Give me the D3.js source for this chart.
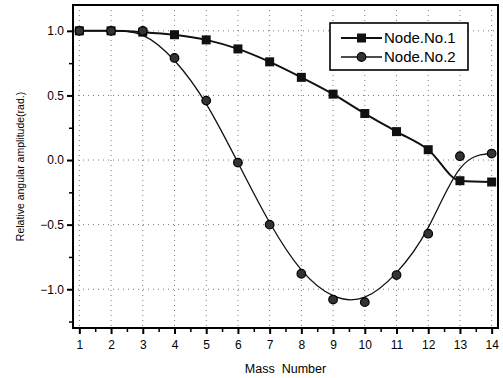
<!DOCTYPE html>
<html>
<head>
<meta charset="utf-8">
<script src="https://cdn.jsdelivr.net/npm/d3@7"></script>
<style>
  body { margin: 0; background: #fff; }
  svg { display: block; font-family: "Liberation Sans", Arial, sans-serif; }
</style>
</head>
<body>
<div id="chart"></div>
<script>
// mass numbers along the bottom axis
var massNumbers = [1, 2, 3, 4, 5, 6, 7, 8, 9, 10, 11, 12, 13, 14];
// relative angular amplitude
var node1 = [1.0, 1.0, 0.99, 0.97, 0.93, 0.86, 0.76, 0.64, 0.51, 0.36, 0.22, 0.08, -0.16, -0.17];
var node2 = [1.0, 1.0, 1.0, 0.79, 0.46, -0.02, -0.50, -0.88, -1.08, -1.10, -0.89, -0.57, 0.03, 0.05];
var seriesNames = ['Node.No.1', 'Node.No.2'];
var yTicks = [-1.0, -0.5, 0.0, 0.5, 1.0];

var width = 503, height = 378;
var margin = {top: 5, right: 5, bottom: 50, left: 73};
var w = width - margin.left - margin.right,
    h = height - margin.top - margin.bottom;

var svg = d3.select('#chart').append('svg')
  .attr('width', width)
  .attr('height', height);

var g = svg.append('g')
  .attr('transform', 'translate(' + margin.left + ',' + margin.top + ')');

var x = d3.scaleLinear().domain([0.8, 14.2]).range([0, w]);
var y = d3.scaleLinear().domain([-1.3, 1.2]).range([h, 0]);

// dotted grid at the major ticks
g.append('g').selectAll('line')
  .data(massNumbers)
  .join('line')
  .attr('x1', function(d) { return x(d); })
  .attr('x2', function(d) { return x(d); })
  .attr('y1', 0).attr('y2', h)
  .attr('stroke', '#777').attr('stroke-width', 1)
  .attr('stroke-dasharray', '1,4');

g.append('g').selectAll('line')
  .data(yTicks)
  .join('line')
  .attr('y1', function(d) { return y(d); })
  .attr('y2', function(d) { return y(d); })
  .attr('x1', 0).attr('x2', w)
  .attr('stroke', '#777').attr('stroke-width', 1)
  .attr('stroke-dasharray', '1,4');

// axes: minor ticks first, then major with labels
var xMinor = d3.range(1.5, 14, 1);
var yMinor = [-1.25, -0.75, -0.25, 0.25, 0.75];

g.append('g')
  .attr('transform', 'translate(0,' + h + ')')
  .call(d3.axisBottom(x).tickValues(xMinor).tickSize(4).tickFormat(''))
  .call(function(s) { s.select('.domain').remove(); s.selectAll('line').attr('stroke-width', 1.5); });

g.append('g')
  .call(d3.axisLeft(y).tickValues(yMinor).tickSize(4).tickFormat(''))
  .call(function(s) { s.select('.domain').remove(); s.selectAll('line').attr('stroke-width', 1.5); });

var xAxis = g.append('g')
  .attr('transform', 'translate(0,' + h + ')')
  .call(d3.axisBottom(x).tickValues(massNumbers).tickSize(6).tickPadding(6).tickFormat(d3.format('d')));

var yAxis = g.append('g')
  .call(d3.axisLeft(y).tickValues(yTicks).tickSize(6).tickPadding(3).tickFormat(d3.format('.1f')));

[xAxis, yAxis].forEach(function(a) {
  a.select('.domain').remove();
  a.selectAll('line').attr('stroke-width', 2);
  a.selectAll('text').attr('font-size', 12).attr('fill', '#000')
    .attr('font-family', '"Liberation Sans", Arial, sans-serif');
});

// frame
g.append('rect')
  .attr('x', 0).attr('y', 0).attr('width', w).attr('height', h)
  .attr('fill', 'none').attr('stroke', '#000').attr('stroke-width', 2);

// series
var line1 = d3.line()
  .x(function(d, i) { return x(massNumbers[i]); })
  .y(function(d) { return y(d); })
  .curve(d3.curveMonotoneX);

var line2 = d3.line()
  .x(function(d, i) { return x(massNumbers[i]); })
  .y(function(d) { return y(d); })
  .curve(d3.curveBasis);

g.append('path').datum(node1)
  .attr('d', line1).attr('fill', 'none')
  .attr('stroke', '#111').attr('stroke-width', 2);

g.append('path').datum(node2)
  .attr('d', line2).attr('fill', 'none')
  .attr('stroke', '#111').attr('stroke-width', 1.3);

g.append('g').selectAll('rect')
  .data(node1)
  .join('rect')
  .attr('x', function(d, i) { return x(massNumbers[i]) - 4.5; })
  .attr('y', function(d) { return y(d) - 4.5; })
  .attr('width', 9).attr('height', 9)
  .attr('fill', '#111');

g.append('g').selectAll('circle')
  .data(node2)
  .join('circle')
  .attr('cx', function(d, i) { return x(massNumbers[i]); })
  .attr('cy', function(d) { return y(d); })
  .attr('r', 4.3)
  .attr('fill', '#333').attr('stroke', '#000').attr('stroke-width', 1.2);

// legend
var legend = svg.append('g').attr('transform', 'translate(330,23)');
legend.append('rect')
  .attr('width', 138).attr('height', 47)
  .attr('fill', '#fff').attr('stroke', '#000').attr('stroke-width', 1.6);

var rows = legend.selectAll('g.row')
  .data(seriesNames)
  .join('g')
  .attr('class', 'row')
  .attr('transform', function(d, i) { return 'translate(0,' + (15 + i * 19) + ')'; });

rows.append('line')
  .attr('x1', 11).attr('x2', 52).attr('y1', 0).attr('y2', 0)
  .attr('stroke', '#111')
  .attr('stroke-width', function(d, i) { return i === 0 ? 2 : 1.3; });

rows.filter(function(d, i) { return i === 0; }).append('rect')
  .attr('x', 27).attr('y', -4.5).attr('width', 9).attr('height', 9).attr('fill', '#111');
rows.filter(function(d, i) { return i === 1; }).append('circle')
  .attr('cx', 31.5).attr('cy', 0).attr('r', 4.3)
  .attr('fill', '#333').attr('stroke', '#000').attr('stroke-width', 1.2);

rows.append('text')
  .attr('x', 54).attr('y', 0).attr('dy', '0.35em')
  .attr('font-size', 15).attr('fill', '#000')
  .text(function(d) { return d; });

// axis titles
svg.append('text')
  .attr('x', margin.left + w / 2).attr('y', 373)
  .attr('text-anchor', 'middle')
  .attr('font-size', 12.5)
  .attr('xml:space', 'preserve')
  .style('white-space', 'pre')
  .text('Mass  Number');

svg.append('text')
  .attr('transform', 'translate(24,' + (margin.top + h / 2) + ') rotate(-90)')
  .attr('text-anchor', 'middle')
  .attr('font-size', 10.5)
  .text('Relative angular amplitude(rad.)');
</script>
</body>
</html>
